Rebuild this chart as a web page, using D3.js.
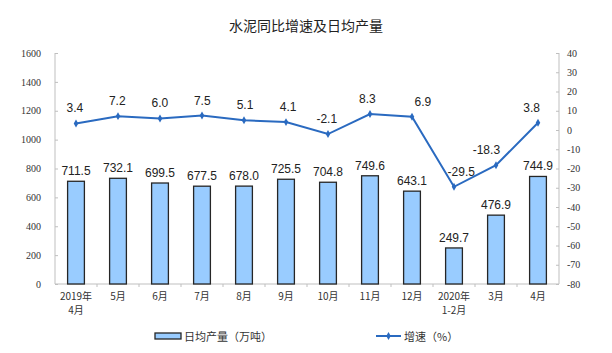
<!DOCTYPE html>
<html>
<head>
<meta charset="utf-8">
<script src="https://cdn.jsdelivr.net/npm/d3@7"></script>
<style>
  body { margin: 0; background: #fff; }
</style>
</head>
<body>
<div id="chart"></div>
<script>
const width = 612;
const height = 353;

// data
const months = [["2019年", "4月"], ["5月"], ["6月"], ["7月"], ["8月"], ["9月"], ["10月"], ["11月"], ["12月"], ["2020年", "1-2月"], ["3月"], ["4月"]];
const output = [711.5, 732.1, 699.5, 677.5, 678.0, 725.5, 704.8, 749.6, 643.1, 249.7, 476.9, 744.9];
const growth = [3.4, 7.2, 6.0, 7.5, 5.1, 4.1, -2.1, 8.3, 6.9, -29.5, -18.3, 3.8];
const leftTicks = [0, 200, 400, 600, 800, 1000, 1200, 1400, 1600];
const rightTicks = [40, 30, 20, 10, 0, -10, -20, -30, -40, -50, -60, -70, -80];

const margin = {left: 55, right: 53, top: 53, bottom: 69};
const barColor = "#99ccff";
const lineColor = "#2a6ac0";
const axisColor = "#bfbfbf";

const svg = d3.select("#chart").append("svg")
    .attr("width", width)
    .attr("height", height);

const x = d3.scaleBand()
    .domain(d3.range(months.length))
    .range([margin.left, width - margin.right])
    .paddingInner(0.6)
    .paddingOuter(0.3);

const yL = d3.scaleLinear().domain([0, 1600]).range([height - margin.bottom, margin.top]);
const yR = d3.scaleLinear().domain([-80, 40]).range([height - margin.bottom, margin.top]);

// title
svg.append("text")
    .attr("x", width / 2)
    .attr("y", 31)
    .attr("text-anchor", "middle")
    .style("font-family", "'Noto Sans CJK SC', sans-serif")
    .style("font-size", "14px")
    .style("fill", "#222")
    .text("水泥同比增速及日均产量");

// left axis
const leftAxis = svg.append("g")
    .attr("transform", `translate(${margin.left},0)`)
    .call(d3.axisRight(yL).tickValues(leftTicks).tickSize(3).tickFormat(d => d));
leftAxis.select(".domain").attr("stroke", axisColor).attr("d", `M0,${yL(0)}V${yL(1600)}`);
leftAxis.selectAll(".tick line").attr("stroke", axisColor);
leftAxis.selectAll(".tick text")
    .attr("x", -14)
    .attr("text-anchor", "end")
    .style("font-family", "'Liberation Serif', serif")
    .style("font-size", "10px")
    .style("fill", "#333");

// right axis
const rightAxis = svg.append("g")
    .attr("transform", `translate(${width - margin.right},0)`)
    .call(d3.axisLeft(yR).tickValues(rightTicks).tickSize(3).tickFormat(d => d));
rightAxis.select(".domain").attr("stroke", axisColor).attr("d", `M0,${yR(-80)}V${yR(40)}`);
rightAxis.selectAll(".tick line").attr("stroke", axisColor);
rightAxis.selectAll(".tick text")
    .attr("x", 8)
    .attr("text-anchor", "start")
    .style("font-family", "'Liberation Serif', serif")
    .style("font-size", "10px")
    .style("fill", "#333");

// bottom axis
const base = yL(0);
svg.append("line")
    .attr("x1", margin.left).attr("x2", width - margin.right)
    .attr("y1", base).attr("y2", base)
    .attr("stroke", axisColor);
svg.selectAll(".xtick")
    .data(d3.range(1, months.length))
    .join("line")
    .attr("x1", d => x(d) - x.step() * x.paddingInner() / 2)
    .attr("x2", d => x(d) - x.step() * x.paddingInner() / 2)
    .attr("y1", base).attr("y2", base + 3)
    .attr("stroke", axisColor);

// category labels, one text per line
const labelLines = months.flatMap((d, i) => d.map((t, j) => ({t, i, j})));
svg.append("g").selectAll("text")
    .data(labelLines)
    .join("text")
    .attr("x", d => x(d.i) + x.bandwidth() / 2)
    .attr("y", d => base + 16 + d.j * 14)
    .attr("text-anchor", "middle")
    .style("font-family", "'Noto Sans CJK SC', sans-serif")
    .style("font-size", "10px")
    .style("fill", "#333")
    .text(d => d.t);

// bars
svg.append("g").selectAll("rect")
    .data(output)
    .join("rect")
    .attr("x", (d, i) => x(i))
    .attr("y", d => yL(d))
    .attr("width", x.bandwidth())
    .attr("height", d => base - yL(d))
    .attr("fill", barColor)
    .attr("stroke", "#262626")
    .attr("stroke-width", 1.3);

svg.append("g").selectAll("text")
    .data(output)
    .join("text")
    .attr("x", (d, i) => x(i) + x.bandwidth() / 2)
    .attr("y", d => yL(d) - 6)
    .attr("text-anchor", "middle")
    .style("font-family", "'Liberation Sans', Arial, sans-serif")
    .style("font-size", "12px")
    .style("fill", "#222")
    .text(d => d.toFixed(1));

// growth line
const cx = i => x(i) + x.bandwidth() / 2;
const line = d3.line()
    .x((d, i) => cx(i))
    .y(d => yR(d));

svg.append("path")
    .datum(growth)
    .attr("fill", "none")
    .attr("stroke", lineColor)
    .attr("stroke-width", 2)
    .attr("d", line);

svg.append("g").selectAll("path")
    .data(growth)
    .join("path")
    .attr("transform", (d, i) => `translate(${cx(i)},${yR(d)})`)
    .attr("d", d3.symbol(d3.symbolDiamond, 18))
    .attr("fill", lineColor);

// nudge labels sideways, away from the steeper neighbouring segment
function nudge(i) {
    const y0 = yR(growth[i]);
    const dPrev = i > 0 ? yR(growth[i - 1]) - y0 : 0;
    const dNext = i < growth.length - 1 ? yR(growth[i + 1]) - y0 : 0;
    return -(dPrev - dNext) * 0.15;
}

svg.append("g").selectAll("text")
    .data(growth)
    .join("text")
    .attr("x", (d, i) => cx(i) + nudge(i))
    .attr("y", d => yR(d) - 11)
    .attr("text-anchor", "middle")
    .style("font-family", "'Liberation Sans', Arial, sans-serif")
    .style("font-size", "12px")
    .style("fill", "#222")
    .text(d => d.toFixed(1));

// legend
const legend = svg.append("g").attr("transform", "translate(0,337)");
legend.append("rect")
    .attr("x", 155).attr("y", -4)
    .attr("width", 26).attr("height", 6)
    .attr("fill", barColor)
    .attr("stroke", "#262626")
    .attr("stroke-width", 1.3);
legend.append("text")
    .attr("x", 184).attr("y", 4)
    .style("font-family", "'Noto Sans CJK SC', sans-serif")
    .style("font-size", "11px")
    .style("fill", "#333")
    .text("日均产量（万吨）");
legend.append("line")
    .attr("x1", 376).attr("x2", 401)
    .attr("y1", -1).attr("y2", -1)
    .attr("stroke", lineColor)
    .attr("stroke-width", 2);
legend.append("path")
    .attr("transform", "translate(388.5,-1)")
    .attr("d", d3.symbol(d3.symbolDiamond, 18))
    .attr("fill", lineColor);
legend.append("text")
    .attr("x", 404).attr("y", 4)
    .style("font-family", "'Noto Sans CJK SC', sans-serif")
    .style("font-size", "11px")
    .style("fill", "#333")
    .text("增速（%）");
</script>
</body>
</html>
